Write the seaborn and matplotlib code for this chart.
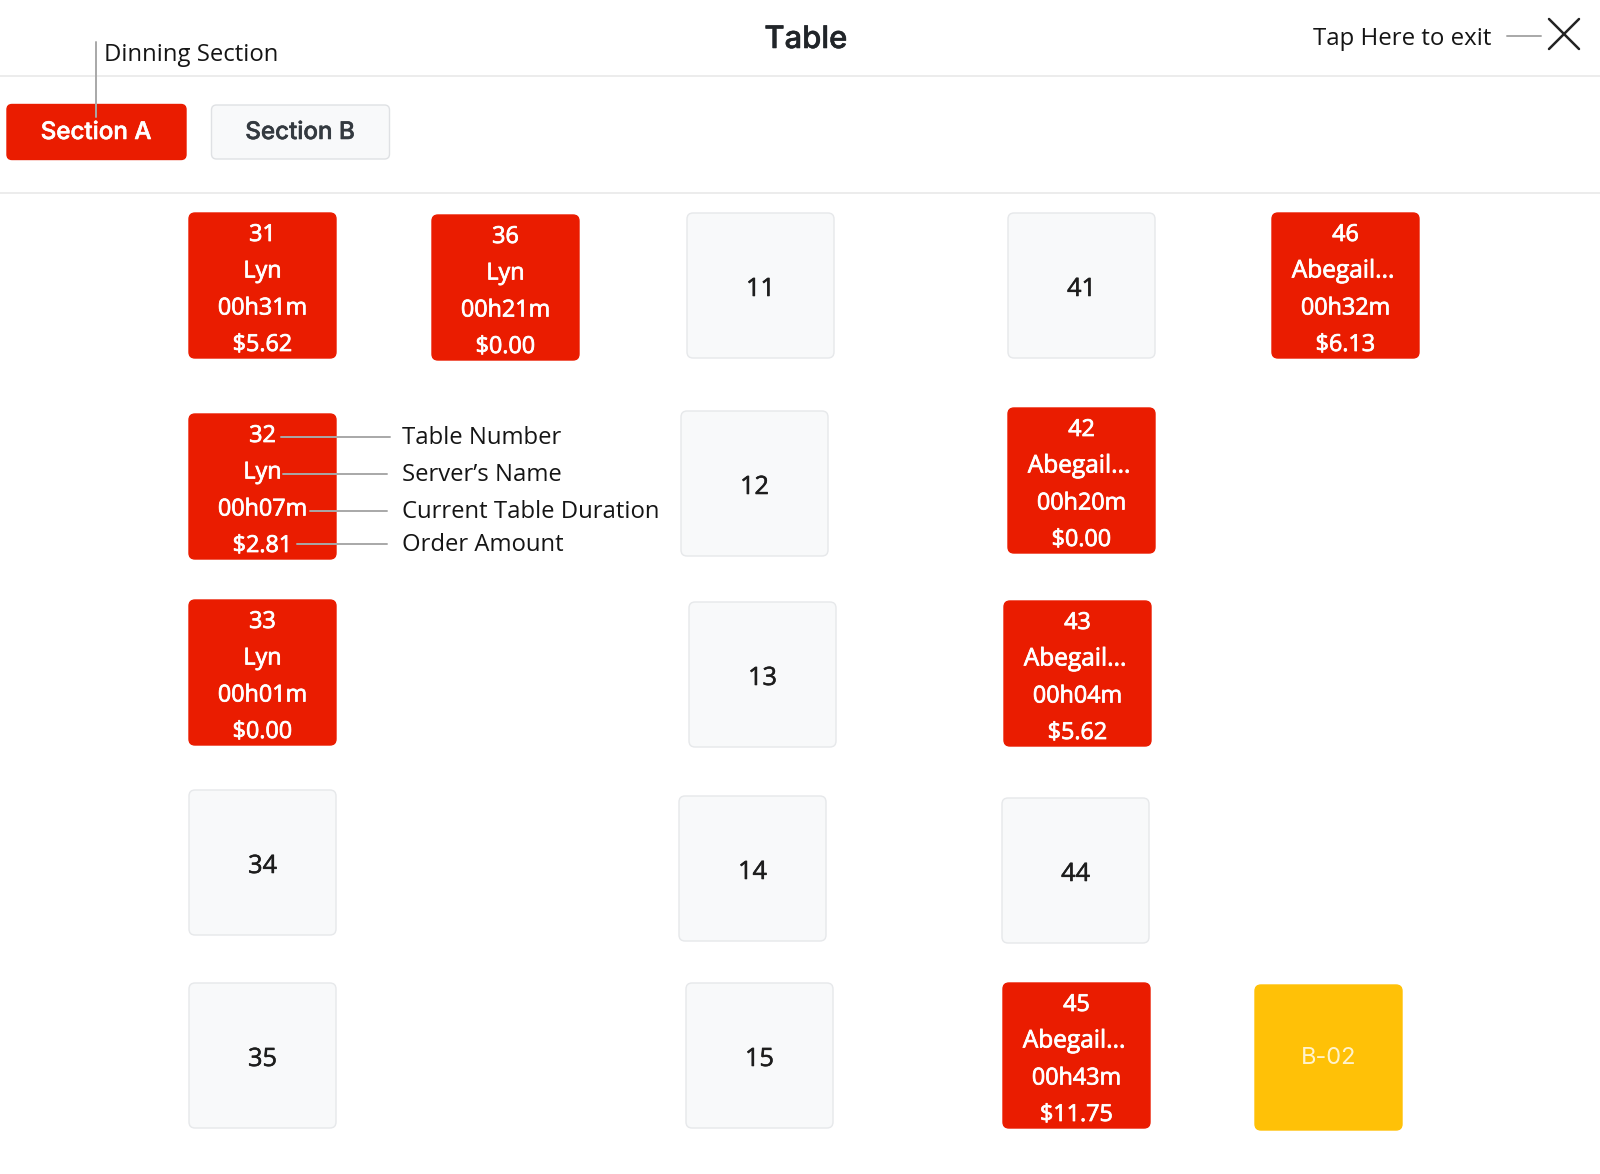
import pandas as pd
import matplotlib
matplotlib.use("Agg")
import matplotlib.pyplot as plt
import matplotlib.patheffects as pe
import seaborn as sns
from matplotlib.patches import FancyBboxPatch

# occupied tables
busy_tables = ["31", "36", "46", "32", "42", "33", "43", "45"]
busy_servers = ["Lyn", "Lyn", "Abegail...", "Lyn", "Abegail...", "Lyn", "Abegail...", "Abegail..."]
busy_durations = ["00h31m", "00h21m", "00h32m", "00h07m", "00h20m", "00h01m", "00h04m", "00h43m"]
busy_amounts = ["$5.62", "$0.00", "$6.13", "$2.81", "$0.00", "$0.00", "$5.62", "$11.75"]

free_tables = ["11", "41", "12", "13", "34", "14", "44", "35", "15"]
held_tables = ["B-02"]

annotation_labels = ["Table Number", "Server\u2019s Name", "Current Table Duration", "Order Amount"]

# layout in image pixels, top left corner of each tile
busy_pos = [(189, 213), (432, 215), (1272, 213), (189, 414), (1008, 408), (189, 600), (1004, 601), (1003, 983)]
free_pos = [(687, 213), (1008, 213), (681, 411), (689, 602), (189, 790), (679, 796), (1002, 798), (189, 983), (686, 983)]
held_pos = [(1255, 985)]
TILE_W, TILE_H = 147, 145

RED = "#ea1c00"
AMBER = "#ffc107"
TILE_GREY = "#f8f9fa"
EDGE_GREY = "#e6e8ea"
LEADER = "#a8a8a8"
INK = "#151515"

sns.set_theme(style="white")
plt.rcParams["font.family"] = ["Open Sans", "DejaVu Sans"]

fig = plt.figure(figsize=(16, 11.74), dpi=100)
ax = fig.add_axes([0, 0, 1, 1])


def box(x, y, w, h, face, edge=None, r=6):
    ax.add_patch(FancyBboxPatch((x + r, y + r), w - 2 * r, h - 2 * r,
                                boxstyle=f"round,pad={r},rounding_size={r}",
                                facecolor=face, edgecolor=edge or face, linewidth=1.0))


def heavy(color, width=0.6):
    # the regular cut is a bit thin next to the original semibold text
    return [pe.withStroke(linewidth=width, foreground=color)]


# leader lines
seg = pd.DataFrame({
    "id": [0, 0, 1, 1, 2, 2, 3, 3, 4, 4, 5, 5],
    "px": [96, 96, 281, 390, 283, 387, 310, 387, 297, 387, 1507, 1541],
    "py": [42, 117, 437, 437, 474, 474, 511, 511, 544, 544, 36, 36],
})
# close icon
cross = pd.DataFrame({
    "id": [0, 0, 1, 1],
    "px": [1549, 1579, 1579, 1549],
    "py": [19, 49, 19, 49],
})

# section buttons
box(7, 104.5, 179, 55, RED, r=5)
box(211.5, 105, 178, 54, "#f8f9fa", "#dfe1e4", r=5)

sns.lineplot(data=seg, x="px", y="py", units="id", estimator=None, sort=False,
             color=LEADER, lw=1.4, ax=ax, legend=False, zorder=3)
sns.lineplot(data=cross, x="px", y="py", units="id", estimator=None, sort=False,
             color="#222222", lw=1.8, ax=ax, legend=False, zorder=3)
ax.set_xlim(0, 1600)
ax.set_ylim(1174, 0)
ax.axis("off")

for (x, y), name in zip(free_pos, free_tables):
    box(x, y, TILE_W, TILE_H, TILE_GREY, EDGE_GREY)
    ax.text(x + TILE_W / 2, y + 76.5, name, ha="center", va="center", fontsize=18.2,
            color="#1d1d1d", path_effects=heavy("#1d1d1d", 0.4))

for x, y in held_pos:
    box(x, y, TILE_W, TILE_H, AMBER)
    ax.text(x + TILE_W / 2, y + 73.5, held_tables[0], ha="center", va="center", fontsize=17,
            color="#fff3cd", family="Inter")

for i, (x, y) in enumerate(busy_pos):
    box(x, y, TILE_W, TILE_H, RED)
    rows = [busy_tables[i], busy_servers[i], busy_durations[i], busy_amounts[i]]
    for text, off in zip(rows, [22, 58.5, 95.5, 132]):
        long_name = text.endswith("...")
        ax.text(x + TILE_W / 2 + (-2.5 if long_name else 0), y + off, text, ha="center", va="center",
                fontsize=17.6 if long_name else 16.8, color="white", path_effects=heavy("white", 0.55))

# header
for y in [75.5, 193]:
    ax.axhline(y, color="#ebebeb", lw=1.3, zorder=1)
ax.text(806, 40, "Table", ha="center", va="center", fontsize=22.3, color="#212529",
        fontweight=500, family="Inter", path_effects=heavy("#212529", 0.4))
ax.text(104, 55, "Dinning Section", ha="left", va="center", fontsize=17.2, color=INK)
ax.text(1313, 39, "Tap Here to exit", ha="left", va="center", fontsize=17.3, color=INK)

ax.text(96, 133, "Section A", ha="center", va="center", fontsize=17.4, color="white",
        fontweight=500, family="Inter", path_effects=heavy("white", 0.4))
ax.text(300, 133, "Section B", ha="center", va="center", fontsize=17.4, color="#343a40",
        fontweight=500, family="Inter", path_effects=heavy("#343a40", 0.4))

# annotation text
for text, y in zip(annotation_labels, [438, 475, 512, 545]):
    ax.text(402, y, text, ha="left", va="center", fontsize=17.2, color=INK)

fig.savefig("out.png", dpi=100, facecolor="white")
